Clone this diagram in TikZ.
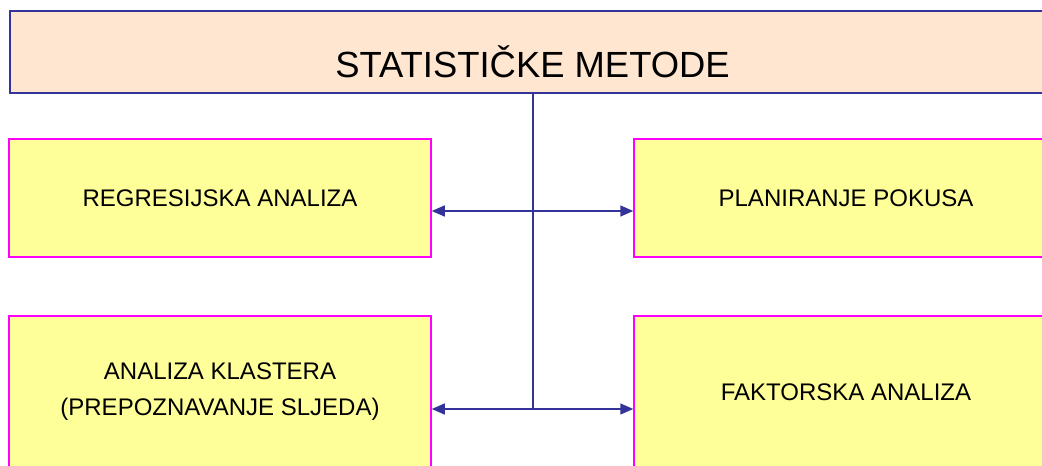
\documentclass[tikz,border=0pt]{standalone}
\usepackage{fontspec}
\setmainfont{Liberation Sans}
\usetikzlibrary{arrows.meta}
\definecolor{peach}{RGB}{255,230,208}
\definecolor{navy}{RGB}{51,51,153}
\definecolor{pale}{RGB}{255,255,153}
\definecolor{pink}{RGB}{255,0,255}
\tikzset{
	method/.style={draw=pink, fill=pale, line width=0.75pt, minimum width=211pt, minimum height=59pt, inner sep=0pt, align=center, font=\fontsize{12}{18}\selectfont},
	link/.style={draw=navy, line width=0.75pt},
	arrowto/.style={-{Triangle[length=6.5pt,width=5.5pt]}}
}

\begin{document}
\begin{tikzpicture}[x=0.5pt, y=-0.5pt]
					\useasboundingbox (0,0) rectangle (1042,465);
					\clip (0,0) rectangle (1042,465);
					\node (title) at (9,10)  [anchor=north west, draw=navy, fill=peach, line width=1pt, minimum width=522.5pt, inner sep=0pt, text height=33.5pt, text depth=7.5pt, font=\fontsize{18.2}{20}\selectfont] {STATISTIČKE METODE};
					\node (regr)  at (220,198) [method] {REGRESIJSKA ANALIZA};
					\node (plan)  at (846,198) [method, minimum width=212pt] {PLANIRANJE POKUSA};
					\node (klast) at (220,392) [method, minimum height=76pt] {ANALIZA KLASTERA\\(PREPOZNAVANJE SLJEDA)};
					\node (fakt)  at (846,392) [method, minimum width=212pt, minimum height=76pt] {FAKTORSKA ANALIZA};
					\coordinate (j1) at (533,211);
					\coordinate (j2) at (533,409);

					% Draw the trunk and the arrows to the boxes
					\draw[link] (j2) -- (j2 |- title.south);
					\draw[link, arrowto] (j1) -- (j1 -| regr.east);
					\draw[link, arrowto] (j1) -- (j1 -| plan.west);
					\draw[link, arrowto] (j2) -- (j2 -| klast.east);
					\draw[link, arrowto] (j2) -- (j2 -| fakt.west);
				\end{tikzpicture}
\end{document}
